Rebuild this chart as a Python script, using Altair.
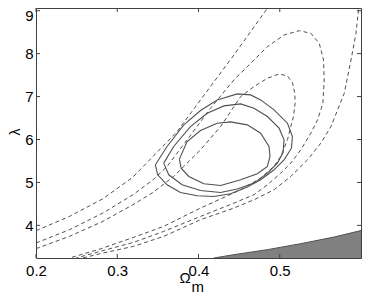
import altair as alt
import pandas as pd

# ---- axis ranges and ticks ----
X_MIN, X_MAX = 0.2, 0.6
Y_MIN, Y_MAX = 3.24, 9.063
x_ticks = [0.2, 0.3, 0.4, 0.5]
y_ticks = [4, 5, 6, 7, 8, 9]

# ---- dashed contours ----
d3a_x = [0.2, 0.2412, 0.2823, 0.3193, 0.344, 0.3737, 0.4025, 0.4436, 0.4897]
d3a_y = [3.876, 4.209, 4.62, 5.124, 5.605, 6.186, 6.922, 7.969, 9.186]

d3b_x = [0.5979, 0.5938, 0.5877, 0.5794, 0.5712, 0.563, 0.5506, 0.5342, 0.5136,
         0.493, 0.4683, 0.4436, 0.4025, 0.3572, 0.3202, 0.279, 0.2576]
d3b_y = [9.186, 8.473, 7.853, 7.078, 6.69, 6.302, 5.915, 5.527, 5.14,
         4.829, 4.597, 4.403, 4.132, 3.744, 3.512, 3.341, 3.24]

d2_x = [0.2, 0.2412, 0.2823, 0.3193, 0.344, 0.3613, 0.386, 0.4148, 0.4436, 0.4642,
        0.4848, 0.5053, 0.5239, 0.5383, 0.5486, 0.5539, 0.5547, 0.5531, 0.5465,
        0.5383, 0.5259, 0.5136, 0.5012, 0.4848, 0.4683, 0.4436, 0.4025, 0.3572,
        0.3202, 0.279, 0.2494]
d2_y = [3.589, 3.899, 4.287, 4.713, 5.062, 5.372, 5.992, 6.729, 7.388, 7.775,
        8.163, 8.434, 8.535, 8.473, 8.24, 7.853, 7.388, 6.845, 6.457,
        6.147, 5.76, 5.45, 5.217, 4.946, 4.713, 4.519, 4.209, 3.86,
        3.605, 3.395, 3.24]

d1_x = [0.2, 0.2412, 0.2823, 0.3193, 0.344, 0.3695, 0.4025, 0.4272, 0.4519, 0.4683,
        0.4848, 0.4992, 0.5095, 0.5156, 0.5185, 0.5189, 0.5169, 0.5136, 0.5095,
        0.5012, 0.4926, 0.4765, 0.4519, 0.4025, 0.3572, 0.3202, 0.279, 0.2412]
d1_y = [3.457, 3.744, 4.093, 4.481, 4.767, 5.14, 5.76, 6.302, 7.0, 7.233,
        7.426, 7.527, 7.481, 7.326, 7.078, 6.845, 6.535, 6.302, 5.992,
        5.605, 5.372, 5.101, 4.829, 4.403, 3.977, 3.721, 3.45, 3.24]

# ---- solid contours (closed) ----
s3_x = [0.3469, 0.3613, 0.3819, 0.4025, 0.423, 0.4477, 0.4642, 0.4765, 0.493, 0.5095,
        0.5156, 0.5144, 0.5053, 0.493, 0.4765, 0.4601, 0.4395, 0.4189, 0.3984,
        0.3778, 0.3613, 0.3498, 0.3469]
s3_y = [5.411, 5.837, 6.341, 6.674, 6.922, 7.062, 7.039, 6.922, 6.69, 6.38,
        6.07, 5.798, 5.527, 5.295, 5.062, 4.891, 4.736, 4.674, 4.69,
        4.767, 4.946, 5.178, 5.411]

s2_x = [0.3572, 0.3695, 0.3901, 0.4107, 0.4313, 0.4519, 0.4683, 0.4848, 0.4992,
        0.5053, 0.5041, 0.4971, 0.4848, 0.4683, 0.4477, 0.4272, 0.4025, 0.3798,
        0.3634, 0.3572]
s2_y = [5.45, 5.837, 6.302, 6.612, 6.783, 6.829, 6.729, 6.535, 6.264,
        5.992, 5.698, 5.45, 5.217, 4.984, 4.845, 4.767, 4.814, 4.946,
        5.178, 5.45]

s1_x = [0.3765, 0.386, 0.4025, 0.423, 0.4395, 0.4601, 0.4765, 0.4868, 0.488, 0.4848,
        0.4724, 0.4519, 0.4272, 0.4066, 0.3881, 0.3786, 0.3765]
s1_y = [5.543, 5.953, 6.209, 6.38, 6.411, 6.341, 6.147, 5.837, 5.605, 5.372,
        5.202, 5.062, 4.93, 4.969, 5.14, 5.333, 5.543]

# ---- excluded (gray) region boundary ----
g_x = [0.4189, 0.4436, 0.4848, 0.5259, 0.5671, 0.6]
g_y = [3.24, 3.318, 3.434, 3.574, 3.729, 3.88]


def frame(name, xs, ys):
    return pd.DataFrame({"id": name, "i": range(len(xs)), "x": xs, "y": ys})


dashed = pd.concat([frame("d3a", d3a_x, d3a_y), frame("d3b", d3b_x, d3b_y),
                    frame("d2", d2_x, d2_y), frame("d1", d1_x, d1_y)])
solid = pd.concat([frame("s3", s3_x, s3_y), frame("s2", s2_x, s2_y),
                   frame("s1", s1_x, s1_y)])
gray = frame("g", g_x, g_y)
gray["base"] = Y_MIN

W, H = 325, 250
FONT = "Liberation Sans"
LINE = "#505050"
FRAME = "#404040"

xs = alt.Scale(domain=[X_MIN, X_MAX], nice=False, zero=False)
ys = alt.Scale(domain=[Y_MIN, Y_MAX], nice=False, zero=False)
xaxis = alt.Axis(values=x_ticks, format=".1f", ticks=False, domain=False, grid=False,
                 labelFont=FONT, labelFontSize=15, labelColor="black", labelPadding=5,
                 labelOverlap=False, labelFlush=False, labelBound=False, title=None)
yaxis = alt.Axis(values=y_ticks, format="d", ticks=False, domain=False, grid=False,
                 labelFont=FONT, labelFontSize=15, labelColor="black", labelPadding=3,
                 labelOverlap=False, labelFlush=5, labelFlushOffset=2, title=None)

area = alt.Chart(gray).mark_area(color="#808080", clip=True).encode(
    x=alt.X("x:Q", scale=xs, axis=xaxis),
    y=alt.Y("y:Q", scale=ys, axis=yaxis),
    y2="base:Q",
)
edge = alt.Chart(gray).mark_line(color="#505050", strokeWidth=1, clip=True).encode(
    x="x:Q", y="y:Q", order="i:Q")

dash = alt.Chart(dashed).mark_line(color=LINE, strokeWidth=1, strokeDash=[4, 3],
                                   clip=True).encode(
    x="x:Q", y="y:Q", detail="id:N", order="i:Q")
sol = alt.Chart(solid).mark_line(color=LINE, strokeWidth=1.1, clip=True).encode(
    x="x:Q", y="y:Q", detail="id:N", order="i:Q")

xt = pd.DataFrame({"v": x_ticks})
yt = pd.DataFrame({"v": y_ticks})
tick_style = dict(color=FRAME, strokeWidth=1)
tb = alt.Chart(xt).mark_rule(**tick_style).encode(x="v:Q", y=alt.value(H), y2=alt.value(H - 4))
tt = alt.Chart(xt).mark_rule(**tick_style).encode(x="v:Q", y=alt.value(0), y2=alt.value(4))
tl = alt.Chart(yt).mark_rule(**tick_style).encode(y="v:Q", x=alt.value(0), x2=alt.value(4))
tr = alt.Chart(yt).mark_rule(**tick_style).encode(y="v:Q", x=alt.value(W), x2=alt.value(W - 4))

lam = alt.Chart(pd.DataFrame({"t": ["λ"]})).mark_text(
    font=FONT, fontSize=14, angle=270, align="center", baseline="middle", color="black"
).encode(text="t:N", x=alt.value(-20), y=alt.value(124))
om = alt.Chart(pd.DataFrame({"t": ["Ω"]})).mark_text(
    font=FONT, fontSize=15, align="center", baseline="alphabetic", color="black"
).encode(text="t:N", x=alt.value(149), y=alt.value(275))
sub = alt.Chart(pd.DataFrame({"t": ["m"]})).mark_text(
    font=FONT, fontSize=15, align="left", baseline="alphabetic", color="black"
).encode(text="t:N", x=alt.value(155.5), y=alt.value(283.5))

chart = alt.layer(area, edge, dash, sol, tb, tt, tl, tr, lam, om, sub).properties(
    width=W, height=H,
    background="white",
    autosize=alt.AutoSizeParams(type="none"),
    padding={"left": 28, "top": 0, "right": 5, "bottom": 35},
).configure_view(stroke=FRAME, strokeWidth=1)

chart.save("out.html", embed_options={"renderer": "svg", "actions": False})
